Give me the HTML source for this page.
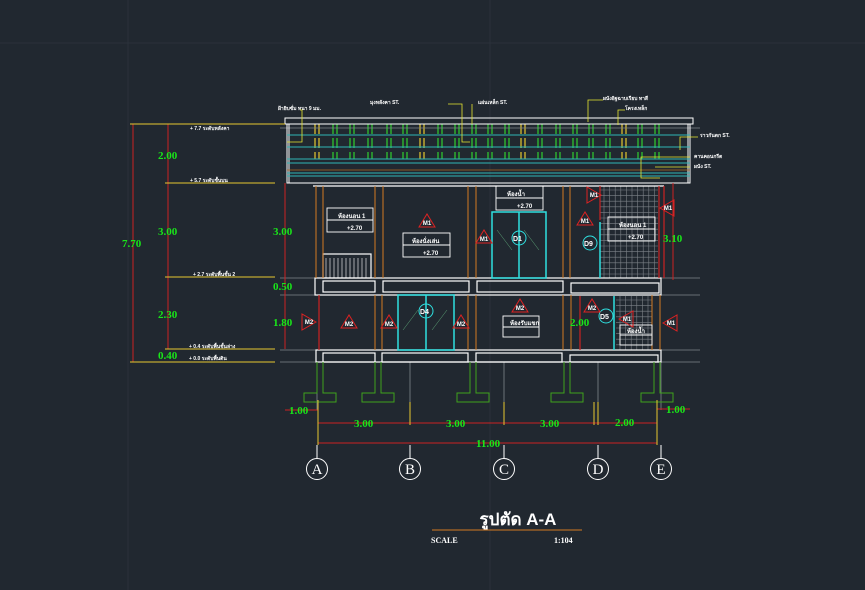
<!DOCTYPE html>
<html><head><meta charset="utf-8"><style>
html,body{margin:0;padding:0;background:#212830;}
svg{display:block}
text{font-family:"Liberation Sans","Noto Sans CJK SC",sans-serif}
.g text{fill:#19e619;font-size:11px;font-weight:bold;font-family:"Liberation Serif",serif}
.w{fill:#fff;font-size:5px;font-weight:bold}
.ax text{font-family:"Liberation Serif",serif;font-size:15px;fill:#fff}
</style></head><body>
<svg id="s" width="865" height="590" viewBox="0 0 865 590" xmlns="http://www.w3.org/2000/svg">
<rect width="865" height="590" fill="#212830"/>
<g stroke="#2a313a" stroke-width="1">
<line x1="128" y1="0" x2="128" y2="590"/><line x1="490" y1="0" x2="490" y2="590"/>
<line x1="0" y1="43" x2="865" y2="43"/>
</g>
<g id="tiles" stroke="#7d8288" stroke-width="0.6" fill="none"></g>
<g id="dyn"></g>
<g stroke="#80868c" stroke-width="0.8">
<line x1="280" y1="128" x2="700" y2="128"/>
<line x1="280" y1="278" x2="700" y2="278"/>
<line x1="280" y1="295" x2="700" y2="295"/>
<line x1="280" y1="350" x2="700" y2="350"/>
<line x1="280" y1="362" x2="700" y2="362"/>
<line x1="317" y1="362" x2="317" y2="410"/><line x1="410" y1="362" x2="410" y2="410"/>
<line x1="504" y1="362" x2="504" y2="410"/><line x1="598" y1="362" x2="598" y2="410"/>
<line x1="661" y1="362" x2="661" y2="410"/>
</g>
<g fill="none" stroke="#fff" stroke-width="1">
<rect x="285" y="118" width="408" height="6"/>
<rect x="287" y="124" width="403" height="59"/>
<line x1="289" y1="124" x2="289" y2="183"/><line x1="688" y1="124" x2="688" y2="183"/>
</g>
<g stroke="#2fb6b6" stroke-width="1">
<line x1="287" y1="135" x2="690" y2="135"/><line x1="287" y1="147" x2="690" y2="147"/>
<line x1="287" y1="159" x2="690" y2="159"/><line x1="287" y1="163" x2="690" y2="163"/>
<line x1="287" y1="173" x2="690" y2="173"/><line x1="287" y1="176" x2="690" y2="176"/>
</g>
<line x1="287" y1="170" x2="690" y2="170" stroke="#b06a20" stroke-width="0.8"/>
<g fill="none" stroke="#fff" stroke-width="1.2">
<line x1="313" y1="186" x2="664" y2="186"/>
<rect x="315" y="278" width="346" height="17"/>
<rect x="323" y="281" width="52" height="11"/><rect x="383" y="281" width="86" height="11"/>
<rect x="477" y="281" width="86" height="11"/><rect x="571" y="283" width="88" height="10"/>
<rect x="316" y="350" width="345" height="12"/>
<rect x="323" y="353" width="52" height="9"/><rect x="382" y="353" width="86" height="9"/>
<rect x="476" y="353" width="86" height="9"/><rect x="570" y="355" width="88" height="7"/>
<rect x="323" y="254" width="48" height="24"/>
</g>
<g stroke="#fff" stroke-width="0.6">
<line x1="326" y1="258" x2="326" y2="278"/><line x1="330" y1="258" x2="330" y2="278"/><line x1="334" y1="258" x2="334" y2="278"/>
<line x1="338" y1="258" x2="338" y2="278"/><line x1="342" y1="258" x2="342" y2="278"/><line x1="346" y1="258" x2="346" y2="278"/>
<line x1="350" y1="258" x2="350" y2="278"/><line x1="354" y1="258" x2="354" y2="278"/><line x1="358" y1="258" x2="358" y2="278"/>
<line x1="362" y1="258" x2="362" y2="278"/><line x1="366" y1="258" x2="366" y2="278"/>
</g>
<g stroke="#d27a22" stroke-width="1">
<line x1="316" y1="186" x2="316" y2="278"/><line x1="323" y1="186" x2="323" y2="278"/>
<line x1="375" y1="186" x2="375" y2="278"/><line x1="383" y1="186" x2="383" y2="278"/>
<line x1="468" y1="186" x2="468" y2="278"/><line x1="476" y1="186" x2="476" y2="278"/>
<line x1="563" y1="186" x2="563" y2="278"/><line x1="570" y1="186" x2="570" y2="278"/>
<line x1="375" y1="295" x2="375" y2="350"/><line x1="382" y1="295" x2="382" y2="350"/>
<line x1="468" y1="295" x2="468" y2="350"/><line x1="476" y1="295" x2="476" y2="350"/>
<line x1="563" y1="295" x2="563" y2="350"/><line x1="571" y1="295" x2="571" y2="350"/>
<line x1="652" y1="295" x2="652" y2="350"/><line x1="660" y1="295" x2="660" y2="350"/>
</g>
<g stroke="#cc2222" stroke-width="1.2">
<line x1="319" y1="295" x2="319" y2="350"/><line x1="600" y1="186" x2="600" y2="220"/>
<line x1="659" y1="186" x2="659" y2="278"/><line x1="664" y1="186" x2="664" y2="278"/>
<line x1="580" y1="296" x2="580" y2="350"/>
</g>
<g fill="none" stroke="#2fe0e0" stroke-width="1.5">
<rect x="492" y="212" width="54" height="66"/><line x1="519" y1="212" x2="519" y2="278"/>
<rect x="398" y="295" width="56" height="55"/><line x1="426" y1="295" x2="426" y2="350"/>
<line x1="600" y1="222" x2="600" y2="278"/><line x1="614" y1="296" x2="614" y2="350"/>
</g>
<g stroke="#8fa" stroke-width="0.5" opacity="0.6">
<line x1="497" y1="230" x2="512" y2="250"/><line x1="524" y1="230" x2="539" y2="250"/>
<line x1="403" y1="330" x2="418" y2="310"/><line x1="432" y1="330" x2="447" y2="310"/>
</g>
<g id="foot" fill="none" stroke="#3fa21c" stroke-width="1"></g>
<g stroke="#cc2222" stroke-width="1">
<line x1="133" y1="124" x2="133" y2="362"/><line x1="168" y1="124" x2="168" y2="349"/>
<line x1="285" y1="183" x2="285" y2="349"/><line x1="673" y1="183" x2="673" y2="280"/>
<line x1="318" y1="423" x2="657" y2="423"/><line x1="318" y1="443" x2="657" y2="443"/>
<line x1="285" y1="410" x2="318" y2="410"/><line x1="657" y1="409" x2="690" y2="409"/>
</g>
<g stroke="#e6c830" stroke-width="1">
<line x1="130" y1="124" x2="285" y2="124"/><line x1="165" y1="183" x2="275" y2="183"/>
<line x1="165" y1="277" x2="275" y2="277"/><line x1="165" y1="349" x2="275" y2="349"/>
<line x1="130" y1="362" x2="275" y2="362"/>
<line x1="318" y1="400" x2="318" y2="445"/><line x1="410" y1="402" x2="410" y2="425"/>
<line x1="504" y1="402" x2="504" y2="425"/><line x1="594" y1="402" x2="594" y2="425"/>
<line x1="598" y1="402" x2="598" y2="425"/><line x1="657" y1="400" x2="657" y2="445"/>
</g>
<g class="g">
<text x="158" y="159">2.00</text><text x="158" y="235">3.00</text><text x="158" y="318">2.30</text>
<text x="158" y="359">0.40</text><text x="122" y="247">7.70</text>
<text x="273" y="235">3.00</text><text x="273" y="290">0.50</text><text x="273" y="326">1.80</text>
<text x="663" y="242">3.10</text><text x="570" y="326">2.00</text>
<text x="354" y="427">3.00</text><text x="446" y="427">3.00</text><text x="540" y="427">3.00</text><text x="615" y="426">2.00</text>
<text x="476" y="447">11.00</text><text x="289" y="414">1.00</text><text x="666" y="413">1.00</text>
</g>
<g class="w">
<text x="190" y="130">+ 7.7 ระดับหลังคา</text><text x="190" y="182">+ 5.7 ระดับชั้นบน</text>
<text x="193" y="276">+ 2.7 ระดับพื้นชั้น 2</text><text x="189" y="348">+ 0.4 ระดับพื้นชั้นล่าง</text>
<text x="189" y="360">+ 0.0 ระดับพื้นดิน</text>
<text x="278" y="110">ฝ้ายิบซั่ม หนา 9 มม.</text><text x="370" y="104">มุงหลังคา ST.</text><text x="478" y="104">แผ่นเหล็ก ST.</text>
<text x="603" y="100">ผนังอิฐฉาบเรียบ ทาสี</text><text x="625" y="110">โครงเหล็ก</text>
<text x="700" y="137">ราวกันตก ST.</text><text x="694" y="158">คานคอนกรีต</text><text x="694" y="168">ผนัง ST.</text>
</g>
<g fill="none" stroke="#e6e630" stroke-width="0.8">
<polyline points="300,110 302,110 302,142 287,142"/><polyline points="448,104 462,104 462,142 470,142"/>
<polyline points="472,104 472,124"/><polyline points="603,100 588,100 588,122"/><polyline points="625,110 618,110 618,125"/>
<polyline points="698,137 680,137 680,150"/><polyline points="690,157 641,157 641,178 660,178"/><polyline points="690,167 655,167"/>
</g>
<g fill="none" stroke="#fff" stroke-width="0.9">
<rect x="327" y="208" width="46" height="24"/><line x1="327" y1="220" x2="373" y2="220"/>
<rect x="403" y="233" width="47" height="24"/><line x1="403" y1="245" x2="450" y2="245"/>
<rect x="496" y="186" width="47" height="24"/><line x1="496" y1="198" x2="543" y2="198"/>
<rect x="608" y="217" width="47" height="24"/><line x1="608" y1="229" x2="655" y2="229"/>
<rect x="503" y="316" width="36" height="21"/><line x1="503" y1="327" x2="539" y2="327"/>
<rect x="620" y="325" width="32" height="20"/><line x1="620" y1="335" x2="652" y2="335"/>
</g>
<g class="w" style="font-size:6px">
<text x="338" y="218">ห้องนอน 1</text><text x="412" y="243">ห้องนั่งเล่น</text><text x="507" y="196">ห้องน้ำ</text>
<text x="619" y="227">ห้องนอน 1</text><text x="510" y="325">ห้องรับแขก</text><text x="627" y="333">ห้องน้ำ</text>
<text x="347" y="230">+2.70</text><text x="423" y="255">+2.70</text><text x="517" y="208">+2.70</text><text x="628" y="239">+2.70</text>
</g>
<g fill="none" stroke="#2fe0e0" stroke-width="1">
<circle cx="519" cy="238" r="7"/><circle cx="426" cy="311" r="7"/><circle cx="590" cy="243" r="7"/><circle cx="606" cy="316" r="7"/>
</g>
<g fill="#fff" font-size="7" font-weight="bold">
<text x="513" y="241">D1</text><text x="420" y="314">D4</text><text x="584" y="246">D9</text><text x="600" y="319">D5</text>
</g>
<g id="mk" fill="none" stroke="#d22" stroke-width="1"></g>
<g fill="none" stroke="#fff" stroke-width="1">
<line x1="317" y1="445" x2="317" y2="458"/><line x1="410" y1="445" x2="410" y2="458"/><line x1="504" y1="445" x2="504" y2="458"/>
<line x1="598" y1="445" x2="598" y2="458"/><line x1="661" y1="445" x2="661" y2="458"/>
<circle cx="317" cy="469" r="10.5"/><circle cx="410" cy="469" r="10.5"/><circle cx="504" cy="469" r="10.5"/>
<circle cx="598" cy="469" r="10.5"/><circle cx="661" cy="469" r="10.5"/>
</g>
<g class="ax" text-anchor="middle">
<text x="317" y="474">A</text><text x="410" y="474">B</text>
<text x="504" y="474">C</text><text x="598" y="474">D</text>
<text x="661" y="474">E</text>
</g>
<text x="518" y="525" fill="#fff" font-size="17" font-weight="bold" text-anchor="middle">รูปตัด A-A</text>
<line x1="432" y1="530" x2="582" y2="530" stroke="#d27a22" stroke-width="1"/>
<text x="431" y="543" fill="#fff" style="font-family:'Liberation Serif',serif;font-size:8px;font-weight:bold">SCALE</text>
<text x="554" y="543" fill="#fff" style="font-family:'Liberation Serif',serif;font-size:8px;font-weight:bold">1:104</text>
</svg>
<script>
var NS="http://www.w3.org/2000/svg";
function el(p,t,a){var e=document.createElementNS(NS,t);for(var k in a)e.setAttribute(k,a[k]);p.appendChild(e);return e;}
var d=document.getElementById("dyn"),tl=document.getElementById("tiles");
for(var x=604;x<=656;x+=5.6)el(tl,"line",{x1:x,y1:186,x2:x,y2:278});
for(var y=190;y<=278;y+=5.6)el(tl,"line",{x1:600,y1:y,x2:658,y2:y});
for(var x=620;x<=650;x+=5.6)el(tl,"line",{x1:x,y1:296,x2:x,y2:350});
for(var y=300;y<=350;y+=5.6)el(tl,"line",{x1:616,y1:y,x2:652,y2:y});
var xs=[317,335,352,370,389,405,422,440,457,474,490,507,523,540,558,575,591,608,624,640,657];
xs.forEach(function(x,i){var col=(i%6==0)?"#e6c830":"#2fd02f";
[[124,134],[138,148],[152,159]].forEach(function(r){
el(d,"line",{x1:x-2,y1:r[0],x2:x-2,y2:r[1],stroke:col,"stroke-width":1.2});
el(d,"line",{x1:x+2,y1:r[0],x2:x+2,y2:r[1],stroke:col,"stroke-width":1.2});});});
var f=document.getElementById("foot");
[320,378,473,567,657].forEach(function(c){el(f,"polyline",{points:(c-3)+",362 "+(c-3)+",393 "+(c-16)+",393 "+(c-16)+",402 "+(c+16)+",402 "+(c+16)+",393 "+(c+3)+",393 "+(c+3)+",362"});});
var mk=document.getElementById("mk"),S=document.getElementById("s");
function tx(x,y,lab){var t=el(S,"text",{x:x,y:y,fill:"#fff","font-size":"6","font-weight":"bold","text-anchor":"middle"});t.textContent=lab;}
function tri(x,y,lab){el(mk,"polygon",{points:(x-8)+","+(y+6)+" "+x+","+(y-7)+" "+(x+8)+","+(y+6)});tx(x,y+4,lab);}
function sideL(x,y,lab){el(mk,"polygon",{points:x+","+y+" "+(x+14)+","+(y-8)+" "+(x+14)+","+(y+8)});tx(x+8,y+2,lab);}
function sideR(x,y,lab){el(mk,"polygon",{points:x+","+y+" "+(x-14)+","+(y-8)+" "+(x-14)+","+(y+8)});tx(x-7,y+2,lab);}
tri(427,221,"M1");tri(484,237,"M1");tri(585,219,"M1");tri(349,322,"M2");tri(389,322,"M2");tri(461,322,"M2");tri(520,306,"M2");tri(592,306,"M2");
sideR(601,195,"M1");sideL(660,208,"M1");sideR(316,322,"M2");sideL(663,323,"M1");sideL(619,319,"M1");
</script>
</body></html>
